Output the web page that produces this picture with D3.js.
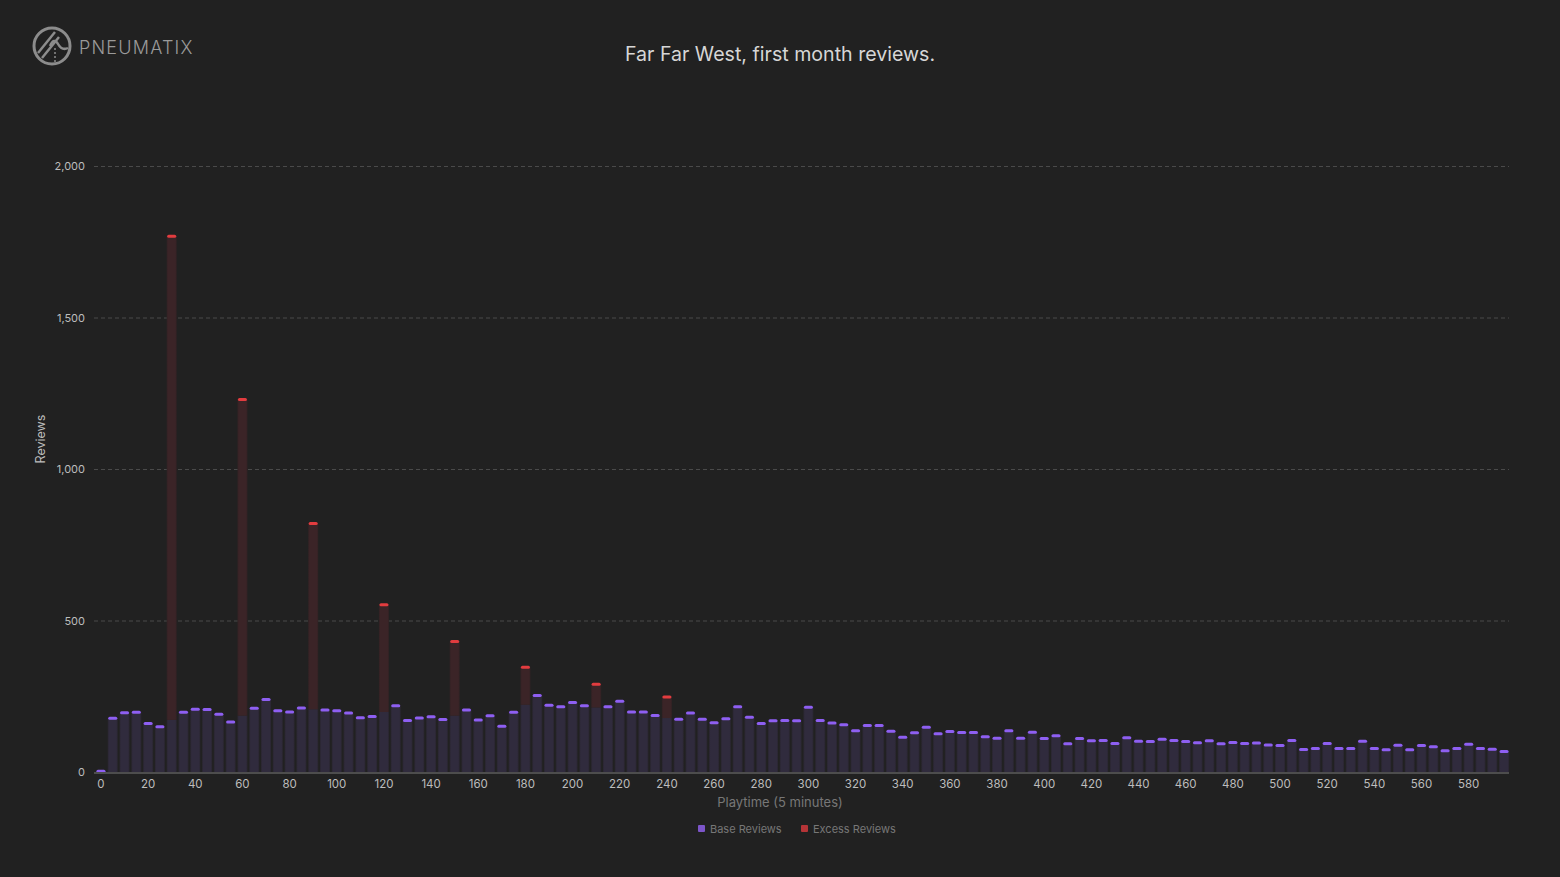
<!DOCTYPE html>
<html>
<head>
<meta charset="utf-8">
<script src="https://cdn.jsdelivr.net/npm/d3@7"></script>
<style>
  html, body { margin: 0; padding: 0; background: #212121; }
  svg { display: block; font-family: Inter, 'Noto Sans', sans-serif; }
</style>
</head>
<body>
<svg width="1560" height="877"></svg>
<script>
// playtime buckets, 5 minute steps
var playtime = d3.range(0, 600, 5)

var baseReviews = [
  4, 179, 197, 199, 162, 151, 172, 199, 209, 208,
  192, 167, 186, 212, 241, 204, 200, 213, 207, 206,
  204, 196, 181, 185, 198, 220, 172, 180, 184, 175,
  186, 206, 173, 187, 153, 199, 222, 254, 222, 217,
  231, 220, 213, 217, 235, 200, 200, 188, 178, 176,
  196, 176, 164, 177, 217, 182, 162, 171, 172, 171,
  215, 172, 163, 158, 138, 155, 155, 136, 116, 131,
  149, 128, 135, 132, 132, 118, 113, 138, 113, 133,
  112, 121, 95, 112, 105, 106, 96, 115, 103, 102,
  110, 106, 102, 98, 105, 95, 99, 96, 97, 91,
  89, 106, 76, 79, 96, 79, 79, 103, 79, 75,
  90, 75, 89, 85, 72, 79, 93, 79, 77, 69
]

// excess only on the half hour marks
var excessAt = [30, 60, 90, 120, 150, 180, 210, 240]
var excessVals = [1598, 1045, 615, 356, 246, 125, 78, 71]

var yTicks = [0, 500, 1000, 1500, 2000]

;(function (d3) {
  var svg = d3.select('svg')
  var m = {left: 94, right: 1509, top: 166, bottom: 772}

  var data = playtime.map(function (p, i) {
    var k = excessAt.indexOf(p)
    return {p: p, base: baseReviews[i], excess: k < 0 ? 0 : excessVals[k]}
  })

  var x = d3.scaleBand()
    .domain(playtime)
    .range([m.left + 1, m.right + 1])
    .paddingInner(0.15)
    .paddingOuter(0.08)

  var y = d3.scaleLinear()
    .domain([0, 2000])
    .range([m.bottom, m.top])

  var defs = svg.append('defs')
  function grad (id, edge, mid) {
    var g = defs.append('linearGradient').attr('id', id)
      .attr('x1', 0).attr('x2', 1).attr('y1', 0).attr('y2', 0)
    g.append('stop').attr('offset', '0%').attr('stop-color', edge)
    g.append('stop').attr('offset', '15%').attr('stop-color', mid)
    g.append('stop').attr('offset', '85%').attr('stop-color', mid)
    g.append('stop').attr('offset', '100%').attr('stop-color', edge)
  }
  grad('gBase', '#29252f', '#302b3d')
  grad('gExc', '#302123', '#3b2427')

  // title
  svg.append('text')
    .attr('x', 780).attr('y', 61)
    .attr('text-anchor', 'middle')
    .style('font-size', '19.6px')
    .style('fill', '#d6d6d6')
    .text('Far Far West, first month reviews.')

  // logo
  var logo = svg.append('g').attr('transform', 'translate(52,46)')
  logo.append('circle').attr('r', 18)
    .style('fill', 'none').style('stroke', '#8c8c8c').style('stroke-width', 3)
  logo.append('line').attr('x1', -14).attr('y1', 7).attr('x2', 3).attr('y2', -14)
    .style('stroke', '#8c8c8c').style('stroke-width', 2.5)
  logo.append('line').attr('x1', -10).attr('y1', 12).attr('x2', 7).attr('y2', -9)
    .style('stroke', '#8c8c8c').style('stroke-width', 2.5)
  logo.append('path').attr('d', 'M-2,0 Q2,-9 6,-2 T16,2')
    .style('fill', 'none').style('stroke', '#8c8c8c').style('stroke-width', 2.5)
  logo.append('line').attr('x1', 3).attr('y1', 2).attr('x2', 3).attr('y2', 18)
    .style('stroke', '#8c8c8c').style('stroke-width', 1.5).style('stroke-dasharray', '2,2')
  svg.append('text')
    .attr('x', 79).attr('y', 54)
    .style('font-size', '18px')
    .style('font-weight', 300)
    .style('letter-spacing', '1.2px')
    .style('fill', '#9a9a9a')
    .text('PNEUMATIX')

  // grid
  svg.append('g').selectAll('line')
    .data(yTicks.filter(function (d) { return d > 0 }))
    .enter().append('line')
    .attr('x1', m.left).attr('x2', m.right)
    .attr('y1', function (d) { return y(d) + 0.5 })
    .attr('y2', function (d) { return y(d) + 0.5 })
    .style('stroke', '#4a4a4a')
    .style('stroke-dasharray', '4,3')

  // y labels
  svg.append('g').selectAll('text')
    .data(yTicks)
    .enter().append('text')
    .attr('x', 85)
    .attr('y', function (d) { return y(d) + 4 })
    .attr('text-anchor', 'end')
    .style('font-size', '11px')
    .style('fill', '#bdbdbd')
    .text(d3.format(','))

  svg.append('text')
    .attr('transform', 'translate(45,439) rotate(-90)')
    .attr('text-anchor', 'middle')
    .style('font-size', '12.5px')
    .style('fill', '#bdbdbd')
    .text('Reviews')

  // bars
  var bw = x.bandwidth()
  var bars = svg.append('g').selectAll('g')
    .data(data)
    .enter().append('g')

  bars.append('rect')
    .attr('x', function (d) { return x(d.p) })
    .attr('width', bw)
    .attr('y', function (d) { return y(d.base) })
    .attr('height', function (d) { return y(0) - y(d.base) })
    .style('fill', 'url(#gBase)')

  bars.filter(function (d) { return d.excess > 0 })
    .append('rect')
    .attr('x', function (d) { return x(d.p) })
    .attr('width', bw)
    .attr('y', function (d) { return y(d.base + d.excess) })
    .attr('height', function (d) { return y(d.base) - y(d.base + d.excess) })
    .style('fill', 'url(#gExc)')

  bars.append('rect')
    .attr('x', function (d) { return x(d.p) + 0.5 })
    .attr('width', bw - 1)
    .attr('y', function (d) { return y(d.base + d.excess) - 1 })
    .attr('height', 3)
    .attr('rx', 1.5)
    .style('fill', function (d) { return d.excess > 0 ? '#e23c3f' : '#8e5ff2' })

  // x axis
  svg.append('line')
    .attr('x1', m.left).attr('x2', m.right)
    .attr('y1', m.bottom + 1).attr('y2', m.bottom + 1)
    .style('stroke', '#4d4d4d').style('stroke-width', 2)

  svg.append('g').selectAll('text')
    .data(playtime.filter(function (p) { return p % 20 === 0 }))
    .enter().append('text')
    .attr('x', function (d) { return x(d) + bw / 2 })
    .attr('y', 788)
    .attr('text-anchor', 'middle')
    .style('font-size', '11.5px')
    .style('fill', '#bdbdbd')
    .text(function (d) { return d })

  svg.append('text')
    .attr('x', 780).attr('y', 807)
    .attr('text-anchor', 'middle')
    .style('font-size', '13px')
    .style('fill', '#777')
    .text('Playtime (5 minutes)')

  // legend
  var legend = [
    {name: 'Base Reviews', color: '#7c55c9', x: 698},
    {name: 'Excess Reviews', color: '#b53437', x: 801}
  ]
  var lg = svg.append('g').selectAll('g')
    .data(legend)
    .enter().append('g')
    .attr('transform', function (d) { return 'translate(' + d.x + ',825)' })
  lg.append('rect').attr('width', 7).attr('height', 7).attr('rx', 1)
    .style('fill', function (d) { return d.color })
  lg.append('text').attr('x', 12).attr('y', 7.5)
    .style('font-size', '11px')
    .style('fill', '#777')
    .text(function (d) { return d.name })
})(window.d3)
</script>
</body>
</html>
